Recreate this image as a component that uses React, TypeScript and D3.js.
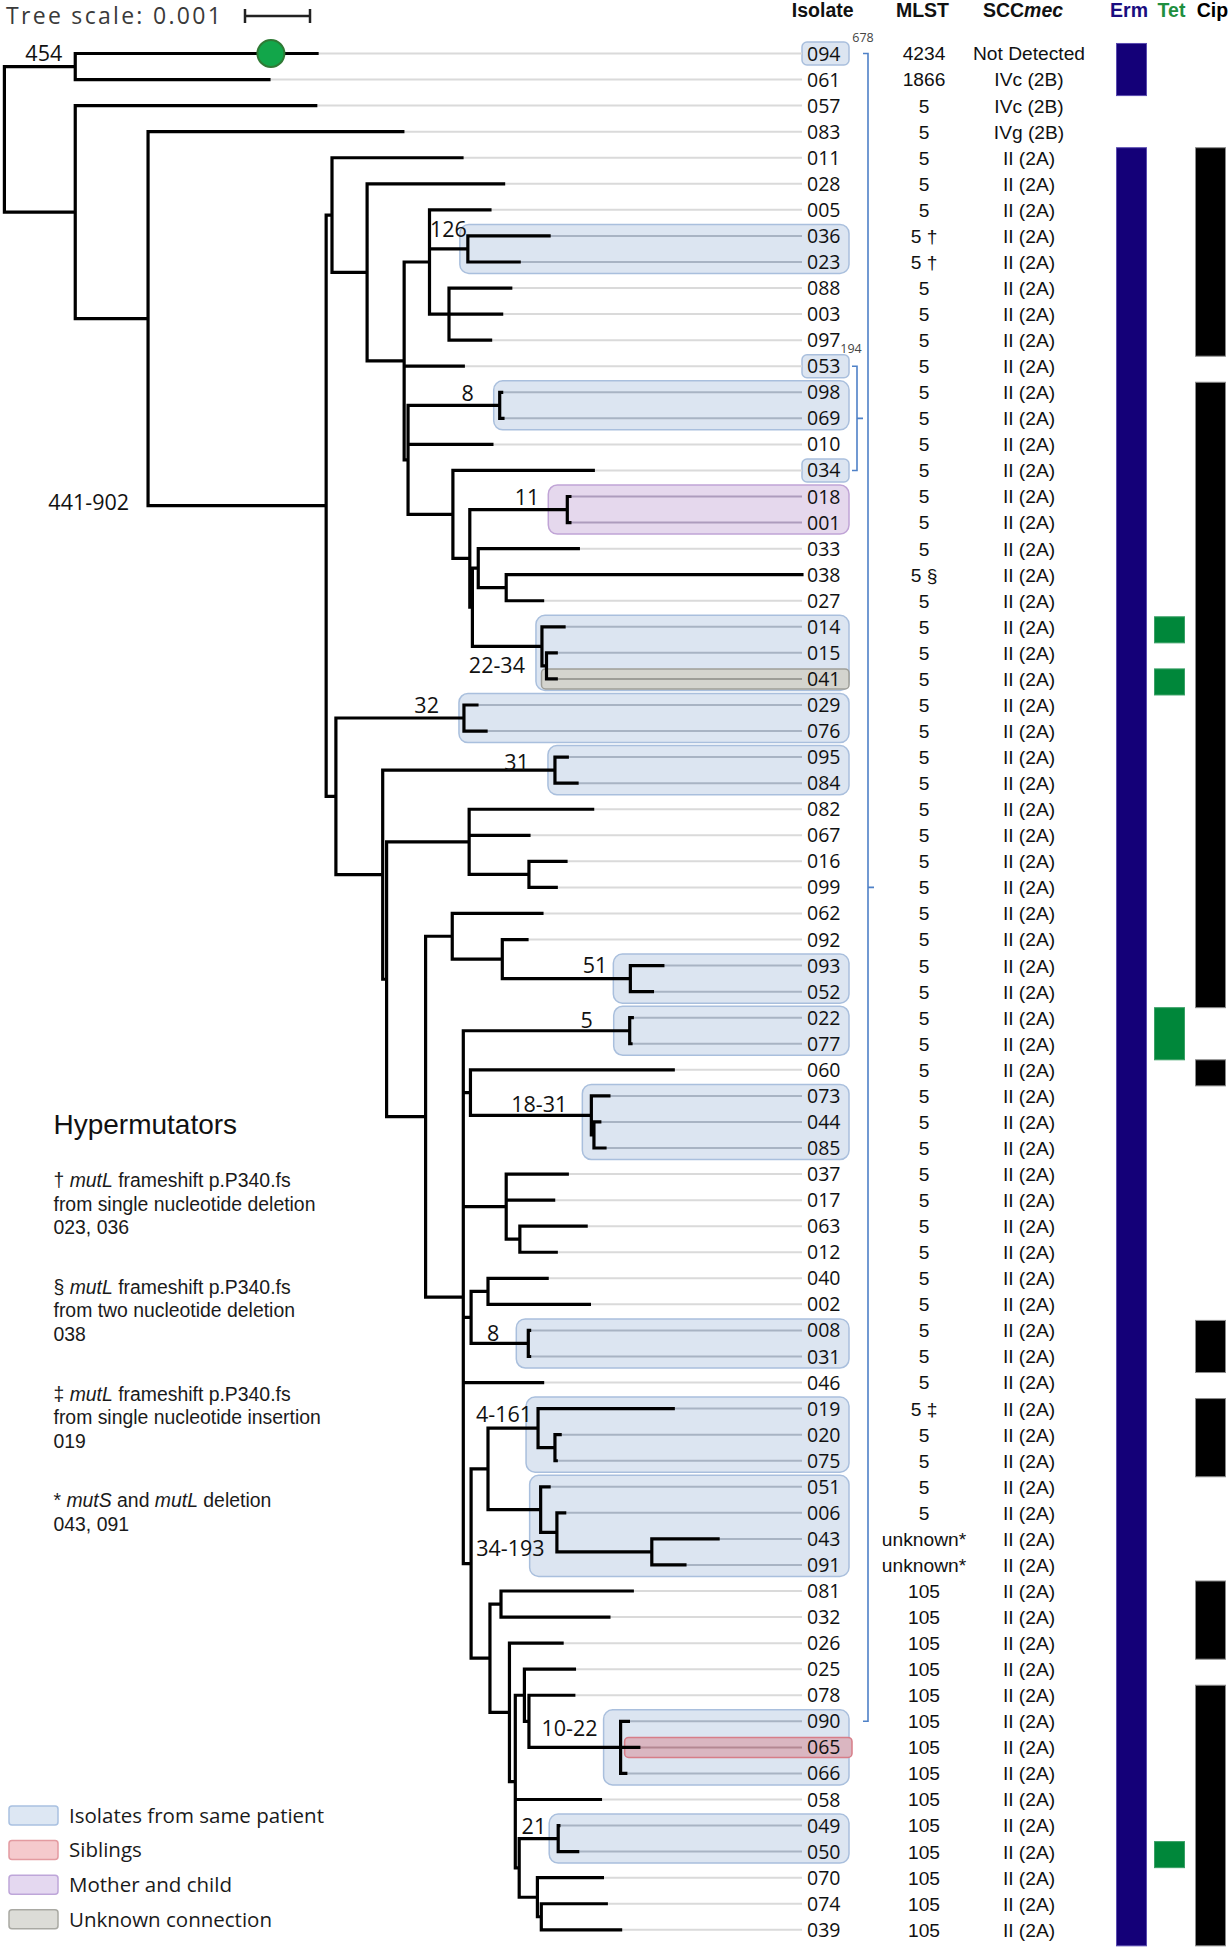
import React, { useMemo } from 'react';
import * as d3 from 'd3';

// ---------------- DATA ----------------
// Phylogeny in Newick; branch lengths in units of 1e-5 substitutions/site (scale bar 0.001 = 100 units)
const cladeE =
  "(011:200,(028:210,((005:93,(036:125,023:79)c126:59,(088:95,003:81,097:64)K:30)H:39,053:91," +
  "((098:3,069:5)c8a:141,010:129,(034:216,((018:4,001:4)c11:150,((033:154,(038:455,027:56)M:43)N:9," +
  "(014:34,(015:15,041:15)O:7)c2234:107)P:4)L:26)J:69)I:6)G:57)F:54)E:9";
const cladeU =
  "((062:138,(092:38,(093:50,052:34)c51:197)Y:77)W:41,((022:4,077:2)c5:256," +
  "(060:312,(073:27,(044:9,085:17)Q2:4)c1831:186)X3:11,(037:94,017:73,(063:102,012:56)Z2:21)Z:66," +
  "((040:91,002:156)AA:26,(008:2,031:2)c8b:88)AB:12,046:122," +
  "(((019:208,(020:8,075:2)Q3:26)c4161:77,(051:13,(006:12,(043:102,091:51)Q5:146)Q4:25)c34193:81)AC:26," +
  "((081:202,032:166)AD:17,(026:81,((025:77,(078:69,(090:12,065:28,066:8)c1022:141)AH:7)AI:14,058:131," +
  "((049:1,050:30)c21:60,(070:100,(074:100,039:122)AM:6)AL:28)AK:6)AJ:9)AF:30)AE:29)X4:12)X:58)U:60";
const cladeR =
  "((029:20,076:34)c32:197,((095:19,084:34)c31:265,((082:190,067:92,(016:57,099:42)V:92)T:127," +
  cladeU + ")S2:6)S1:72)R:15";
const newickTree =
  "((094:372,061:298)A:109,(057:370,(083:392,(" + cladeE + "," + cladeR + ")D:274)C:112)B:109)root;";

const isolates = [
  "094","061","057","083","011","028","005","036","023","088","003","097","053","098","069","010","034",
  "018","001","033","038","027","014","015","041","029","076","095","084","082","067","016","099","062",
  "092","093","052","022","077","060","073","044","085","037","017","063","012","040","002","008","031",
  "046","019","020","075","051","006","043","091","081","032","026","025","078","090","065","066","058",
  "049","050","070","074","039",
];

const mlst = [
  "4234","1866","5","5","5","5","5","5 †","5 †","5","5","5","5","5","5","5","5",
  "5","5","5","5 §","5","5","5","5","5","5","5","5","5","5","5","5","5",
  "5","5","5","5","5","5","5","5","5","5","5","5","5","5","5","5","5",
  "5","5 ‡","5","5","5","5","unknown*","unknown*","105","105","105","105","105","105","105","105","105",
  "105","105","105","105","105",
];

const sccmec = [
  "Not Detected","IVc (2B)","IVc (2B)","IVg (2B)",
  "II (2A)","II (2A)","II (2A)","II (2A)","II (2A)","II (2A)","II (2A)","II (2A)","II (2A)","II (2A)",
  "II (2A)","II (2A)","II (2A)","II (2A)","II (2A)","II (2A)","II (2A)","II (2A)","II (2A)","II (2A)",
  "II (2A)","II (2A)","II (2A)","II (2A)","II (2A)","II (2A)","II (2A)","II (2A)","II (2A)","II (2A)",
  "II (2A)","II (2A)","II (2A)","II (2A)","II (2A)","II (2A)","II (2A)","II (2A)","II (2A)","II (2A)",
  "II (2A)","II (2A)","II (2A)","II (2A)","II (2A)","II (2A)","II (2A)","II (2A)","II (2A)","II (2A)",
  "II (2A)","II (2A)","II (2A)","II (2A)","II (2A)","II (2A)","II (2A)","II (2A)","II (2A)","II (2A)",
  "II (2A)","II (2A)","II (2A)","II (2A)","II (2A)","II (2A)","II (2A)","II (2A)","II (2A)",
];

const ermPositive = isolates.filter((id) => id !== "057" && id !== "083");
const tetPositive = ["014", "041", "022", "077", "050"];
const cipPositive = [
  "011","028","005","036","023","088","003","097",
  "098","069","010","034","018","001","033","038","027","014","015","041","029","076","095","084",
  "082","067","016","099","062","092","093","052",
  "060",
  "008","031",
  "019","020","075",
  "081","032","026",
  "078","090","065","066","058","049","050","070","074","039",
];

const cladeLabels = [
  { node: "A", text: "454" },
  { node: "D", text: "441-902" },
  { node: "c126", text: "126" },
  { node: "c8a", text: "8" },
  { node: "c11", text: "11" },
  { node: "c2234", text: "22-34" },
  { node: "c32", text: "32" },
  { node: "c31", text: "31" },
  { node: "c51", text: "51" },
  { node: "c5", text: "5" },
  { node: "c1831", text: "18-31" },
  { node: "c8b", text: "8" },
  { node: "c4161", text: "4-161" },
  { node: "c34193", text: "34-193" },
  { node: "c1022", text: "10-22" },
  { node: "c21", text: "21" },
];

const highlightClades = [
  { node: "c126", kind: "patient" },
  { node: "c8a", kind: "patient" },
  { node: "c11", kind: "mother" },
  { node: "c2234", kind: "patient" },
  { node: "O", kind: "unknown", leaves: ["041"] },
  { node: "c32", kind: "patient" },
  { node: "c31", kind: "patient" },
  { node: "c51", kind: "patient" },
  { node: "c5", kind: "patient" },
  { node: "c1831", kind: "patient" },
  { node: "c8b", kind: "patient" },
  { node: "c4161", kind: "patient" },
  { node: "c34193", kind: "patient" },
  { node: "c1022", kind: "patient" },
  { node: "c1022", kind: "sibling", leaves: ["065"] },
  { node: "c21", kind: "patient" },
];
const highlightLabelsOnly = ["094", "053", "034"];

const brackets = [
  { from: "094", to: "090", label: "678" },
  { from: "053", to: "034", label: "194" },
];

const markerLeaf = "094";
const markerDist = 410;

const legendItems = [
  { kind: "patient", text: "Isolates from same patient" },
  { kind: "sibling", text: "Siblings" },
  { kind: "mother", text: "Mother and child" },
  { kind: "unknown", text: "Unknown connection" },
];

const hyperTitle = "Hypermutators";
const hyperNotes = [
  { head: [["† ", false], ["mutL", true], [" frameshift p.P340.fs", false]], lines: ["from single nucleotide deletion", "023, 036"] },
  { head: [["§ ", false], ["mutL", true], [" frameshift p.P340.fs", false]], lines: ["from two nucleotide deletion", "038"] },
  { head: [["‡ ", false], ["mutL", true], [" frameshift p.P340.fs", false]], lines: ["from single nucleotide insertion", "019"] },
  { head: [["* ", false], ["mutS", true], [" and ", false], ["mutL", true], [" deletion", false]], lines: ["043, 091"] },
];

// ---------------- LAYOUT / STYLE ----------------
const W = 1231;
const H = 1950;
const TREE_FONT = "'Open Sans', 'DejaVu Sans', sans-serif";
const TABLE_FONT = "'Liberation Sans', Arial, sans-serif";

const labelLayout: Record<string, { dx: number; dy: number; fromParent?: boolean }> = {
  A: { dx: -13, dy: -13 },
  D: { dx: -19, dy: -3, fromParent: true },
  c126: { dx: -1, dy: -20 },
  c8a: { dx: -26, dy: -12 },
  c11: { dx: -28, dy: -12.5 },
  c2234: { dx: -17, dy: 19 },
  c32: { dx: -25, dy: -13 },
  c31: { dx: -26, dy: -8 },
  c51: { dx: -23, dy: -13 },
  c5: { dx: -37, dy: -10 },
  c1831: { dx: -24, dy: -11 },
  c8b: { dx: -29, dy: -10 },
  c4161: { dx: -6, dy: -14 },
  c34193: { dx: 4, dy: 39 },
  c1022: { dx: -23, dy: -19 },
  c21: { dx: -12, dy: -12 },
};
const highlightPad: Record<string, number> = {
  c126: 8, c8a: 6, c11: 19, c2234: 6, O: 5, c32: 5, c31: 7, c51: 17, c5: 16, c1831: 9,
  c8b: 12, c4161: 12, c34193: 11, c1022: 17, c21: 9,
};
const kindStyle: Record<string, { fill: string; stroke: string; line: string; legendFill: string; legendStroke: string }> = {
  patient: { fill: "#dce5f1", stroke: "#a9bfdd", line: "#a8b3c3", legendFill: "#dde7f3", legendStroke: "#a9c1e1" },
  mother: { fill: "#e5d8ed", stroke: "#c0a4d6", line: "#ad9cbd", legendFill: "#e4d8f0", legendStroke: "#bea6d9" },
  unknown: { fill: "#d4d4ce", stroke: "#9e9e98", line: "#9d9d97", legendFill: "#dcdcd7", legendStroke: "#a9a9a3" },
  sibling: { fill: "#dab6c1", stroke: "#d77d88", line: "#b48893", legendFill: "#f5cacd", legendStroke: "#e39ba1" },
};

function parseNewick(str: string) {
  const s = str.replace(/\s+/g, "");
  let i = 0;
  const parse = (): any => {
    const node: any = { name: "", length: 0, children: [] };
    if (s[i] === "(") {
      i++;
      node.children.push(parse());
      while (s[i] === ",") {
        i++;
        node.children.push(parse());
      }
      i++;
    }
    let name = "";
    while (i < s.length && !"():,;".includes(s[i])) name += s[i++];
    node.name = name;
    if (s[i] === ":") {
      i++;
      let num = "";
      while (i < s.length && !"(),;".includes(s[i])) num += s[i++];
      node.length = parseFloat(num);
    }
    return node;
  };
  return parse();
}

function runsOf(list: string[]) {
  const idx = list.map((id) => isolates.indexOf(id)).sort((a, b) => a - b);
  const runs: [number, number][] = [];
  idx.forEach((k) => {
    const last = runs[runs.length - 1];
    if (last && last[1] === k - 1) last[1] = k;
    else runs.push([k, k]);
  });
  return runs;
}

export default function App() {
  const L = useMemo(() => {
    const xScale = d3.scaleLinear().domain([0, 100]).range([4.4, 69.4]);
    const yScale = d3.scalePoint<string>().domain(isolates).range([53.5, 1929.8]);
    const step = yScale.step();
    const root: any = d3.hierarchy(parseNewick(newickTree), (d: any) => (d.children.length ? d.children : null));
    root.eachBefore((n: any) => {
      n.dist = n.parent ? n.parent.dist + n.data.length : 0;
      n.px = xScale(n.dist);
    });
    root.eachAfter((n: any) => {
      if (n.children) n.py = (n.children[0].py + n.children[n.children.length - 1].py) / 2;
      else n.py = yScale(n.data.name);
    });
    const byName = new Map<string, any>();
    root.each((n: any) => byName.set(n.data.name, n));
    return { xScale, yScale, step, root, byName };
  }, []);

  const { xScale, yScale, step, root, byName } = L;
  const nodes: any[] = root.descendants();
  const leaves: any[] = root.leaves();
  const LEAF_END = 802;
  const BOX_RIGHT = 849;

  // highlight boxes
  const boxes = highlightClades.map((h) => {
    const n = byName.get(h.node);
    const lv: string[] = h.leaves ? h.leaves : n.leaves().map((d: any) => d.data.name);
    const inner = !!h.leaves;
    const half = inner ? 10 : 11.5;
    const y0 = yScale(lv[0])! - half;
    const y1 = yScale(lv[lv.length - 1])! + half;
    const pad = h.kind === "sibling" ? -4 : highlightPad[h.node];
    const x0 = n.px - pad;
    return { ...h, lv, x0, y0, y1, inner, right: h.kind === "sibling" ? BOX_RIGHT + 3 : BOX_RIGHT };
  });
  const leafLineColor = new Map<string, string>();
  boxes.forEach((b) => b.lv.forEach((id) => leafLineColor.set(id, kindStyle[b.kind].line)));

  const branchPath = d3.path();
  nodes.forEach((n) => {
    if (n.parent) {
      branchPath.moveTo(n.parent.px, n.py);
      branchPath.lineTo(n.px, n.py);
    }
    if (n.children) {
      branchPath.moveTo(n.px, n.children[0].py);
      branchPath.lineTo(n.px, n.children[n.children.length - 1].py);
    }
  });

  const colMLST = 924;
  const colSCC = 1029;
  const barW = 30;
  const barCols = [
    { list: ermPositive, x: 1116.5, fill: "#140078", stroke: "#5a4bb0" },
    { list: tetPositive, x: 1154.5, fill: "#00873a", stroke: "#3aa066" },
    { list: cipPositive, x: 1195.5, fill: "#000000", stroke: "#8a8a8a" },
  ];

  const marker = byName.get(markerLeaf);

  return (
    <svg
      width={W}
      height={H}
      viewBox={`0 0 ${W} ${H}`}
      style={{ position: "absolute", left: 0, top: 0, background: "#fff" }}
    >
      <rect x={0} y={0} width={W} height={H} fill="#fff" />

      {/* tree scale */}
      <text x={6} y={16} dy="0.36em" fontFamily={TREE_FONT} fontSize={23} letterSpacing={2.3} fill="#3a3a3a">
        Tree scale: 0.001
      </text>
      <g stroke="#222" strokeWidth={2.5}>
        <line x1={245} x2={245 + xScale(100) - xScale(0)} y1={16} y2={16} />
        <line x1={245} x2={245} y1={9} y2={23} />
        <line x1={245 + xScale(100) - xScale(0)} x2={245 + xScale(100) - xScale(0)} y1={9} y2={23} />
      </g>

      {/* label-only highlights */}
      {highlightLabelsOnly.map((id) => (
        <rect
          key={"lb" + id}
          x={LEAF_END}
          y={yScale(id)! - 11.5}
          width={BOX_RIGHT - LEAF_END}
          height={23}
          rx={5}
          fill={kindStyle.patient.fill}
          stroke={kindStyle.patient.stroke}
          strokeWidth={1.5}
        />
      ))}

      {/* clade highlights */}
      {boxes
        .filter((b) => !b.inner)
        .map((b, i) => (
          <rect
            key={"hb" + i}
            x={b.x0}
            y={b.y0}
            width={b.right - b.x0}
            height={b.y1 - b.y0}
            rx={9}
            fill={kindStyle[b.kind].fill}
            stroke={kindStyle[b.kind].stroke}
            strokeWidth={1.5}
          />
        ))}
      {boxes
        .filter((b) => b.inner)
        .map((b, i) => (
          <rect
            key={"hi" + i}
            x={b.x0}
            y={b.y0}
            width={b.right - b.x0}
            height={b.y1 - b.y0}
            rx={4}
            fill={kindStyle[b.kind].fill}
            stroke={kindStyle[b.kind].stroke}
            strokeWidth={1.5}
          />
        ))}

      {/* leaf guide lines */}
      {leaves.map((n) =>
        n.px < LEAF_END - 1 ? (
          <line
            key={"gl" + n.data.name}
            x1={n.px}
            x2={LEAF_END}
            y1={n.py}
            y2={n.py}
            stroke={leafLineColor.get(n.data.name) || "#dadada"}
            strokeWidth={2}
          />
        ) : null
      )}

      {/* branches */}
      <path d={branchPath.toString()} fill="none" stroke="#000" strokeWidth={3.2} strokeLinecap="square" />

      {/* marker */}
      <circle cx={xScale(markerDist)} cy={marker.py} r={13.5} fill="#12a64a" stroke="#2f7a35" strokeWidth={2} />

      {/* clade labels */}
      {cladeLabels.map((c, i) => {
        const n = byName.get(c.node);
        const lay = labelLayout[c.node];
        const bx = lay.fromParent ? n.parent.px : n.px;
        return (
          <text
            key={"cl" + i}
            x={bx + lay.dx}
            y={n.py + lay.dy}
            dy="0.36em"
            textAnchor="end"
            fontFamily={TREE_FONT}
            fontSize={21.5}
            fill="#111"
          >
            {c.text}
          </text>
        );
      })}

      {/* leaf labels */}
      {leaves.map((n) => (
        <text
          key={"ll" + n.data.name}
          x={807}
          y={n.py}
          dy="0.36em"
          fontFamily={TREE_FONT}
          fontSize={19.5}
          fill="#111"
        >
          {n.data.name}
        </text>
      ))}

      {/* brackets */}
      {brackets.map((b, i) => {
        const bx = i === 0 ? 868 : 857;
        const y0 = yScale(b.from)!;
        const y1 = yScale(b.to)!;
        const ym = (y0 + y1) / 2;
        return (
          <g key={"br" + i}>
            <path
              d={`M${bx - 5},${y0} H${bx} V${y1} H${bx - 5} M${bx},${ym} H${bx + 6}`}
              fill="none"
              stroke="#4f81c7"
              strokeWidth={1.6}
            />
            <text
              x={i === 0 ? bx - 5 : bx - 6}
              y={i === 0 ? y0 - 16 : y0 - 18}
              dy="0.36em"
              textAnchor="middle"
              fontFamily={TREE_FONT}
              fontSize={12.5}
              fill="#444"
            >
              {b.label}
            </text>
          </g>
        );
      })}

      {/* headers */}
      <g fontFamily={TABLE_FONT} fontWeight="bold" fontSize={19.5} textAnchor="middle">
        <text x={822.7} y={16.7} fill="#111">Isolate</text>
        <text x={922.5} y={16.7} fill="#111">MLST</text>
        <text x={1023} y={16.7} fill="#111">
          SCC<tspan fontStyle="italic">mec</tspan>
        </text>
        <text x={1129} y={16.7} fill="#1a0d80">Erm</text>
        <text x={1171.5} y={16.7} fill="#1f8f3f">Tet</text>
        <text x={1212.5} y={16.7} fill="#000">Cip</text>
      </g>

      {/* table columns */}
      <g fontFamily={TABLE_FONT} fontSize={19.2} fill="#111" textAnchor="middle">
        {isolates.map((id, i) => (
          <text key={"m" + id} x={colMLST} y={yScale(id)} dy="0.36em">
            {mlst[i]}
          </text>
        ))}
        {isolates.map((id, i) => (
          <text key={"s" + id} x={colSCC} y={yScale(id)} dy="0.36em">
            {sccmec[i]}
          </text>
        ))}
      </g>

      {/* resistance bars */}
      {barCols.map((c, ci) =>
        runsOf(c.list).map(([a, b], ri) => (
          <rect
            key={"bar" + ci + "-" + ri}
            x={c.x}
            y={yScale(isolates[a])! - step / 2 + 3}
            width={barW}
            height={(b - a + 1) * step}
            fill={c.fill}
            stroke={c.stroke}
            strokeWidth={1}
          />
        ))
      )}

      {/* hypermutators */}
      <text x={53.5} y={1124} dy="0.36em" fontFamily={TABLE_FONT} fontSize={28} fill="#111">
        {hyperTitle}
      </text>
      <g fontFamily={TABLE_FONT} fontSize={19.4} fill="#1a1a1a" style={{ whiteSpace: "pre" }}>
        {hyperNotes.map((note, k) => {
          const y0 = 1180 + k * 106.8;
          return (
            <g key={"hn" + k}>
              <text x={53.5} y={y0} dy="0.36em">
                {note.head.map((seg: any, j: number) => (
                  <tspan key={j} fontStyle={seg[1] ? "italic" : "normal"}>
                    {seg[0]}
                  </tspan>
                ))}
              </text>
              {note.lines.map((ln, j) => (
                <text key={j} x={53.5} y={y0 + (j + 1) * 23.6} dy="0.36em">
                  {ln}
                </text>
              ))}
            </g>
          );
        })}
      </g>

      {/* legend */}
      {legendItems.map((it, i) => {
        const cy = 1815.5 + i * 34.6;
        return (
          <g key={"lg" + i}>
            <rect
              x={9}
              y={cy - 9.5}
              width={49}
              height={19}
              rx={3}
              fill={kindStyle[it.kind].legendFill}
              stroke={kindStyle[it.kind].legendStroke}
              strokeWidth={1.5}
            />
            <text x={69} y={cy} dy="0.36em" fontFamily={TREE_FONT} fontSize={20.5} fill="#1a1a1a">
              {it.text}
            </text>
          </g>
        );
      })}
    </svg>
  );
}
